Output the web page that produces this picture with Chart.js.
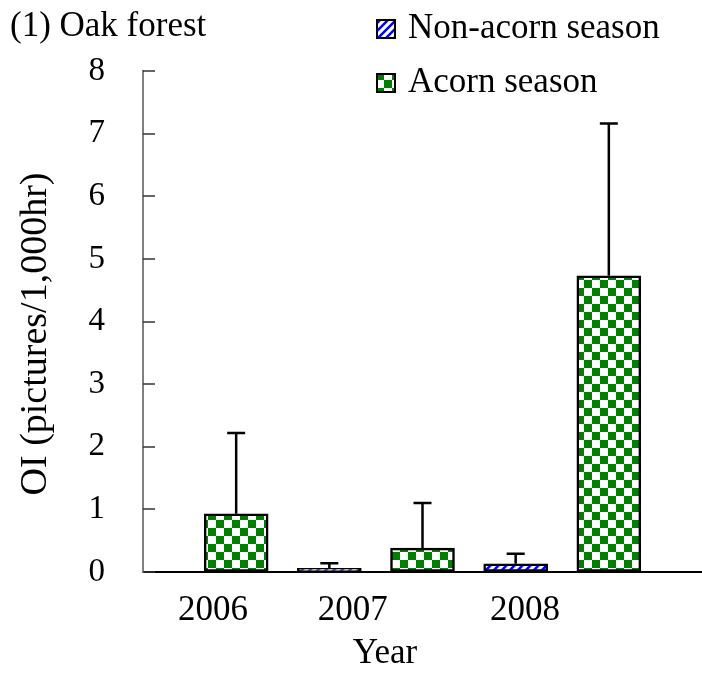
<!DOCTYPE html>
<html>
<head>
<meta charset="utf-8">
<script src="https://cdn.jsdelivr.net/npm/chart.js@4.4.0/dist/chart.umd.min.js"></script>
<style>
    html, body { margin: 0; padding: 0; background: #fff; }
    #wrap { width: 702px; height: 673px; }
</style>
</head>
<body>
<div id="wrap"><canvas id="oakChart"></canvas></div>
<script>
// values (mean and SD, pictures per 1,000 hr)
const years = ['2006', '2007', '2008'];
const nonAcornMean = [0, 0.06, 0.13];
const nonAcornSd = [0, 0.08, 0.16];
const acornMean = [0.93, 0.38, 4.73];
const acornSd = [1.29, 0.72, 2.43];
const yTicks = [0, 1, 2, 3, 4, 5, 6, 7, 8];
const yearTickPos = [0.75, 2.25, 4.1]; // where the year captions sit on the x scale

const serif = "'Liberation Serif', 'Times New Roman', serif";

document.addEventListener('DOMContentLoaded', function() {
    const ctx = document.getElementById('oakChart').getContext('2d');

    // green / white checkerboard
    function makeChecker(cell) {
        const c = document.createElement('canvas');
        c.width = cell * 2; c.height = cell * 2;
        const g = c.getContext('2d');
        g.fillStyle = '#ffffff';
        g.fillRect(0, 0, c.width, c.height);
        g.fillStyle = '#008000';
        g.fillRect(0, 0, cell, cell);
        g.fillRect(cell, cell, cell, cell);
        return ctx.createPattern(c, 'repeat');
    }

    // blue / white diagonal stripes
    function makeStripes(size) {
        const c = document.createElement('canvas');
        c.width = size; c.height = size;
        const g = c.getContext('2d');
        g.fillStyle = '#ffffff';
        g.fillRect(0, 0, size, size);
        g.strokeStyle = '#0000ff';
        g.lineWidth = 2.5;
        g.beginPath();
        g.moveTo(-2, size + 2); g.lineTo(size + 2, -2);
        g.moveTo(-2, 2); g.lineTo(2, -2);
        g.moveTo(size - 2, size + 2); g.lineTo(size + 2, size - 2);
        g.stroke();
        return ctx.createPattern(c, 'repeat');
    }

    const checker = makeChecker(8);
    const stripes = makeStripes(8);

    const errorBars = {
        id: 'errorBars',
        afterDatasetsDraw(chart) {
            const c = chart.ctx;
            const yScale = chart.scales.y;
            c.save();
            c.strokeStyle = '#000';
            c.lineWidth = 2.5;
            chart.data.datasets.forEach((ds, di) => {
                const meta = chart.getDatasetMeta(di);
                meta.data.forEach((bar, i) => {
                    const sd = ds.sd[i];
                    if (!sd) return;
                    const top = yScale.getPixelForValue(ds.data[i].y + sd);
                    c.beginPath();
                    c.moveTo(bar.x, bar.y);
                    c.lineTo(bar.x, top);
                    c.moveTo(bar.x - 9, top);
                    c.lineTo(bar.x + 9, top);
                    c.stroke();
                });
            });
            c.restore();
        }
    };

    // tick marks point into the plot, as in the original
    const innerTicks = {
        id: 'innerTicks',
        afterDraw(chart) {
            const c = chart.ctx;
            const y = chart.scales.y;
            c.save();
            c.strokeStyle = '#333';
            c.lineWidth = 1.5;
            y.ticks.forEach(t => {
                const py = Math.round(y.getPixelForValue(t.value));
                c.beginPath();
                c.moveTo(y.right, py);
                c.lineTo(y.right + 12, py);
                c.stroke();
            });
            c.restore();
        }
    };

    // legend block + axis captions
    const sideText = {
        id: 'sideText',
        afterDraw(chart) {
            const c = chart.ctx;
            c.save();
            c.font = '35px ' + serif;
            c.textBaseline = 'middle';

            const swatches = [stripes, checker];
            chart.data.datasets.forEach((ds, i) => {
                const cy = 29 + i * 54;
                c.fillStyle = swatches[i];
                c.fillRect(377, cy - 9, 18, 18);
                c.strokeStyle = '#000';
                c.lineWidth = 2;
                c.strokeRect(377, cy - 9, 18, 18);
                c.fillStyle = '#000';
                c.textAlign = 'left';
                c.fillText(ds.label, 408, cy);
            });

            c.textAlign = 'center';
            c.fillText('Year', 385, 654);

            c.font = '38px ' + serif;
            c.translate(36, 334);
            c.rotate(-Math.PI / 2);
            c.fillText('OI (pictures/1,000hr)', 0, 0);
            c.restore();
        }
    };

    new Chart(ctx, {
        type: 'bar',
        data: {
            datasets: [
                {
                    label: 'Non-acorn season',
                    data: years.map((yr, i) => ({ x: i * 2, y: nonAcornMean[i] })),
                    sd: nonAcornSd,
                    backgroundColor: stripes,
                    borderColor: '#000',
                    borderWidth: 2.5,
                    borderSkipped: false,
                    barThickness: 64,
                    grouped: false
                },
                {
                    label: 'Acorn season',
                    data: years.map((yr, i) => ({ x: i * 2 + 1, y: acornMean[i] })),
                    sd: acornSd,
                    backgroundColor: checker,
                    borderColor: '#000',
                    borderWidth: 2.5,
                    borderSkipped: false,
                    barThickness: 64,
                    grouped: false
                }
            ]
        },
        options: {
            responsive: true,
            maintainAspectRatio: false,
            animation: false,
            layout: { padding: { left: 10, right: 0, top: 0, bottom: 0 } },
            plugins: {
                legend: { display: false },
                tooltip: { enabled: false },
                title: {
                    display: true,
                    text: '(1) Oak forest',
                    align: 'start',
                    color: '#000',
                    font: { family: serif, size: 35, weight: 'normal' },
                    padding: { top: 6, bottom: 23 }
                }
            },
            scales: {
                x: {
                    type: 'linear',
                    min: 0,
                    max: 6,
                    offset: false,
                    afterBuildTicks: scale => {
                        scale.ticks = yearTickPos.map(v => ({ value: v }));
                    },
                    afterFit: scale => { scale.height = 101; },
                    ticks: {
                        color: '#000',
                        padding: 18,
                        maxRotation: 0,
                        autoSkip: false,
                        font: { family: serif, size: 35 },
                        callback: (v, i) => years[i]
                    },
                    grid: { drawOnChartArea: false, drawTicks: false },
                    border: { color: '#000', width: 2 }
                },
                y: {
                    min: 0,
                    max: 8,
                    afterBuildTicks: scale => {
                        scale.ticks = yTicks.map(v => ({ value: v }));
                    },
                    afterFit: scale => { scale.width = 133; },
                    ticks: {
                        color: '#000',
                        padding: 38,
                        font: { family: serif, size: 33 }
                    },
                    grid: { drawOnChartArea: false, drawTicks: false },
                    border: { color: '#808080', width: 2 }
                }
            }
        },
        plugins: [errorBars, innerTicks, sideText]
    });
});
</script>
</body>
</html>
